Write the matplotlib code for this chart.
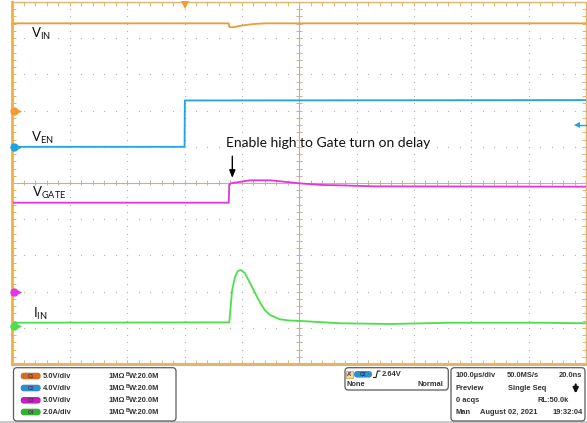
import numpy as np
import matplotlib
matplotlib.use('Agg')
import matplotlib.pyplot as plt
from matplotlib.patches import FancyBboxPatch, Rectangle
from matplotlib.collections import LineCollection

# ---------------- data ----------------
t_left, t_right = -300, 700          # µs (100 µs/div, trigger at 3rd division)
n_vdiv = 10

ch_names = ['C1', 'C2', 'C3', 'C4']
ch_scales = [5.0, 4.0, 5.0, 2.0]            # units / div
ch_offsets = [2.0, 1.0, -3.0, -3.95]        # ground position in div
ch_scale_labels = ['5.0V/div', '4.0V/div', '5.0V/div', '2.0A/div']
ch_colors = ['#F39A35', '#1FA3E3', '#E434E4', '#4BE04B']
ch_pill_colors = ['#D0701E', '#2E8FCF', '#C21FC2', '#2FB52F']
ch_labels = [r'V$_{\mathrm{IN}}$', r'V$_{\mathrm{EN}}$', r'V$_{\mathrm{GATE}}$', r'I$_{\mathrm{IN}}$']

vin_t = [-300, 77, 78, 83, 100, 119, 140, 700]
vin_v = [12.05, 12.05, 11.55, 11.5, 11.75, 11.95, 12.05, 12.05]

ven_t = [-300, 0, 0.5, 700]
ven_v = [0.0, 0.0, 5.12, 5.16]

vgate_t = [-300, 77, 78, 81, 100, 114, 150, 200, 240, 270, 330, 700]
vgate_v = [12.28, 12.28, 14.8, 14.96, 15.2, 15.37, 15.37, 14.96, 14.72, 14.68, 14.54, 14.49]

iin_t = [-300, 78, 83, 88, 93, 98, 105, 114, 123, 132, 140, 149, 166, 184, 201, 271, 358, 463, 620, 700]
iin_a = [0.18, 0.2, 1.99, 2.71, 3.04, 3.09, 2.93, 2.38, 1.82, 1.27, 0.88, 0.61, 0.37, 0.30, 0.28,
         0.15, 0.11, 0.18, 0.18, 0.15]

trig_time = 0.0
trig_level = 2.64
trig_ch = 1

annotation = 'Enable high to Gate turn on delay'

# ---------------- figure ----------------
W, H = 587, 423
fig = plt.figure(figsize=(W / 100, H / 100), dpi=100)
fig.patch.set_facecolor('white')
plt.rcParams['mathtext.fontset'] = 'custom'
plt.rcParams['mathtext.rm'] = 'Lato'

gx0, gx1, gy0, gy1 = 12.5, 586.0, 2.0, 364.0
ax = fig.add_axes([gx0 / W, 1 - gy1 / H, (gx1 - gx0) / W, (gy1 - gy0) / H])
ax.set_xlim(t_left, t_right)
ax.set_ylim(-n_vdiv / 2, n_vdiv / 2)
ax.axis('off')

pxx = (t_right - t_left) / (gx1 - gx0)   # µs per pixel
pxy = n_vdiv / (gy1 - gy0)               # div per pixel

# grid dots
dot_c = '#B0B0B0'
xs_minor = np.arange(t_left, t_right + 0.1, 20.0)[1:-1]
ys_minor = np.arange(-5, 5.01, 0.2)[1:-1]
for yv in range(-4, 5):
    if yv == 0:
        continue
    ax.scatter(xs_minor, np.full_like(xs_minor, yv), s=0.8, color=dot_c, lw=0, zorder=1)
for xv in range(-200, 700, 100):
    if xv == 200:
        continue
    ax.scatter(np.full_like(ys_minor, xv), ys_minor, s=0.8, color=dot_c, lw=0, zorder=1)

# center cross with ticks
cc = '#BDB2A2'
ax.plot([t_left, t_right], [0, 0], color=cc, lw=0.8, zorder=1)
ax.plot([200, 200], [-5, 5], color=cc, lw=0.8, zorder=1)
segs = []
for xv in xs_minor:
    segs.append([(xv, -2.5 * pxy), (xv, 2.5 * pxy)])
for yv in ys_minor:
    segs.append([(200 - 3 * pxx, yv), (200 + 3 * pxx, yv)])
ax.add_collection(LineCollection(segs, colors=cc, lw=0.7, zorder=1))

# border ticks
bc = '#E2B46C'
segs = []
for xv in xs_minor:
    segs.append([(xv, 5), (xv, 5 - 4 * pxy)])
    segs.append([(xv, -5), (xv, -5 + 4 * pxy)])
for yv in ys_minor:
    segs.append([(t_left, yv), (t_left + 4 * pxx, yv)])
    segs.append([(t_right, yv), (t_right - 4 * pxx, yv)])
ax.add_collection(LineCollection(segs, colors=bc, lw=0.7, zorder=1))

# border
ax.plot([t_left, t_right, t_right], [5, 5, -5], color=bc, lw=1.0, zorder=2, clip_on=False)
ax.plot([t_left, t_right], [-5, -5], color=bc, lw=2.2, zorder=2, clip_on=False)
ax.plot([t_left, t_left], [-5, 5], color='#F2B040', lw=2.0, zorder=2, clip_on=False)

# traces
series = [(vin_t, vin_v), (ven_t, ven_v), (vgate_t, vgate_v), (iin_t, iin_a)]
for i, (tt, vv) in enumerate(series):
    yy = np.asarray(vv) / ch_scales[i] + ch_offsets[i]
    ax.plot(tt, yy, color=ch_colors[i], lw=1.3, zorder=5, solid_joinstyle='round')

# channel ground markers
for i in range(4):
    y0 = ch_offsets[i]
    ax.plot([t_left + 2 * pxx], [y0], marker='o', ms=6, color=ch_colors[i], mew=0,
            clip_on=False, zorder=6)
    ax.plot([t_left + 2 * pxx, t_left + 8 * pxx], [y0, y0], color=ch_colors[i], lw=1.0,
            clip_on=False, zorder=6)
    ax.plot([t_left + 7 * pxx], [y0], marker='>', ms=3.5, color=ch_colors[i], mew=0,
            clip_on=False, zorder=6)

# trigger position marker (top)
ax.plot([trig_time], [5 - 3.5 * pxy], marker='v', ms=5.5, color='#F39A35', mew=0,
        clip_on=False, zorder=6)
# trigger level marker (right)
ty = trig_level / ch_scales[trig_ch] + ch_offsets[trig_ch] - 0.05
ax.plot([t_right - 9 * pxx, t_right], [ty, ty], color=ch_colors[trig_ch], lw=1.0, zorder=6,
        clip_on=False)
ax.plot([t_right - 9 * pxx], [ty], marker='<', ms=4, color=ch_colors[trig_ch], mew=0,
        zorder=6, clip_on=False)

# labels
lab_pos = [(-268, 4.0), (-268, 1.14), (-266.5, -0.387), (-264, -3.72)]
for i, (lx, ly) in enumerate(lab_pos):
    ax.text(lx, ly, ch_labels[i], fontsize=9.5, family='Lato', color='#111111',
            ha='left', va='baseline', zorder=7)

# annotation
ax.text(251, 1.10, annotation, fontsize=10, family='Lato', color='#111111',
        ha='center', va='center', zorder=7)
ax.annotate('', xy=(83.3, 0.14), xytext=(83.3, 0.74),
            arrowprops=dict(arrowstyle='-|>,head_width=0.18,head_length=0.45',
                            color='black', lw=1.0, shrinkA=0, shrinkB=0), zorder=7)

# ---------------- info panel ----------------
pax = fig.add_axes([0, 0, 1, (H - gy1) / H])
pax.set_xlim(0, W)
pax.set_ylim(H, gy1)
pax.axis('off')
pax.add_patch(Rectangle((0, 420.5), W, 3, color='#C9C9C9', lw=0))

box_ec = '#5A5A5A'
def rbox(x0, y0, x1, y1):
    pax.add_patch(FancyBboxPatch((x0, y0), x1 - x0, y1 - y0,
                                 boxstyle='round,pad=0,rounding_size=3.5',
                                 fc='white', ec=box_ec, lw=0.9))

rbox(13.5, 367.7, 176, 421)
rbox(345, 367.7, 448.3, 390)
rbox(451, 367.7, 585, 421)

tf = dict(family='Liberation Sans', fontweight='bold', fontsize=5.4, color='#333333',
          va='center')
row_y = [376.0, 388.0, 400.3, 412.0]
for i in range(4):
    y = row_y[i]
    pax.add_patch(FancyBboxPatch((20.7, y - 3.3), 20, 6.6,
                                 boxstyle='round,pad=0,rounding_size=3.3',
                                 fc=ch_pill_colors[i], ec='none'))
    pax.text(30.7, y, ch_names[i], ha='center', family='Liberation Sans',
             fontweight='bold', fontsize=3.5, color='#5a2a5a', va='center')
    pax.text(43, y, ch_scale_labels[i], ha='left', **tf)
    pax.text(109, y, '1MΩ', ha='left', **tf)
    pax.text(126.0, y - 1.6, 'B', ha='left', family='Liberation Sans', fontweight='bold',
             fontsize=3.8, color='#333333', va='center')
    pax.text(128.6, y + 0.4, 'W:20.0M', ha='left', **tf)

# trigger box
pax.add_patch(Rectangle((346, 371), 6.8, 6.6, fc='#F5D9A8', ec='#C89A55', lw=0.5))
pax.text(349.4, 374.3, "A'", ha='center', family='Liberation Sans', fontweight='bold',
         fontsize=4, color='#333333', va='center')
pax.add_patch(FancyBboxPatch((354, 371), 18, 6.6, boxstyle='round,pad=0,rounding_size=3.3',
                             fc=ch_pill_colors[1], ec='none'))
pax.text(363, 374.3, 'C2', ha='center', family='Liberation Sans', fontweight='bold',
         fontsize=3.5, color='#1a3a6a', va='center')
pax.plot([373.5, 376, 377.5, 380], [377.5, 377.5, 371, 371], color='#222222', lw=0.8)
pax.text(381.5, 374.3, '%.2fV' % trig_level, ha='left', **tf)
pax.text(346.5, 384.5, 'None', ha='left', **tf)
pax.text(443.5, 384.5, 'Normal', ha='right', **tf)

# acquisition box
pax.text(456, 375.5, '100.0µs/div', ha='left', **tf)
pax.text(507, 375.5, '50.0MS/s', ha='left', **tf)
pax.text(582.5, 375.5, '20.0ns', ha='right', **tf)
pax.text(456, 388.3, 'Preview', ha='left', **tf)
pax.text(508, 388.3, 'Single Seq', ha='left', **tf)
pax.annotate('', xy=(575.7, 393.5), xytext=(575.7, 384.5),
             arrowprops=dict(arrowstyle='-|>,head_width=0.15,head_length=0.3',
                             color='#111111', lw=1.6, shrinkA=0, shrinkB=0))
pax.text(456, 400.3, '0 acqs', ha='left', **tf)
pax.text(568.5, 400.3, 'RL:50.0k', ha='right', **tf)
pax.text(456, 412.0, 'Man', ha='left', **tf)
pax.text(480, 412.0, 'August 02, 2021', ha='left', **tf)
pax.text(582.5, 412.0, '19:32:04', ha='right', **tf)

fig.savefig('out.png', dpi=100, facecolor='white')
